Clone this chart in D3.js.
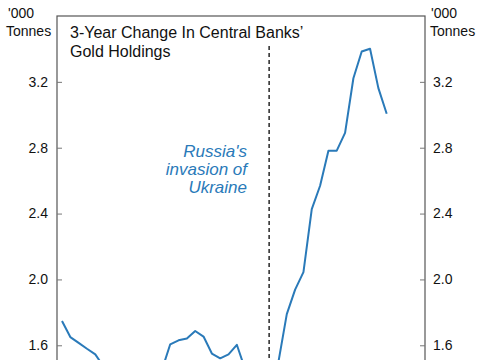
<!DOCTYPE html>
<html><head><meta charset="utf-8">
<script src="https://cdn.jsdelivr.net/npm/d3@7"></script>
<style>html,body{margin:0;padding:0;background:#fff;}svg{display:block;font-family:"Liberation Sans",Arial,sans-serif;}</style>
</head><body>
<script>
// Quarterly observations, Q4 2015 .. Q3 2025 ('000 tonnes)
const quarters = d3.range(40);
const values = [1.748,1.650,1.615,1.579,1.545,1.47,1.40,1.36,1.33,1.31,1.34,1.40,1.45,1.606,1.630,1.641,1.687,1.653,1.550,1.521,1.545,1.603,1.454,1.40,1.42,1.45,1.50,1.789,1.938,2.044,2.427,2.569,2.782,2.782,2.890,3.222,3.384,3.401,3.162,3.006];
const yTicks = [1.6,2.0,2.4,2.8,3.2];
const eventIndex = 25;
const titleLines = ["3-Year Change In Central Banks’","Gold Holdings"];
const eventLabel = ["Russia's","invasion of","Ukraine"];
const unitLabel = ["'000","Tonnes"];

const W=485,H=360;
const L=57,R=425,T=16,B=477;
const svg=d3.select("body").append("svg").attr("width",W).attr("height",H);
const x=d3.scaleLinear().domain([-0.6,43.6]).range([L,R]);
const y=d3.scaleLinear().domain([0.8,3.6]).range([B,T]);
const blue="#2a7ab9";

// frame
svg.append("rect").attr("x",L).attr("y",T).attr("width",R-L).attr("height",B-T)
  .attr("fill","none").attr("stroke","#555").attr("stroke-width",1.2);

// axes
const fmt=d3.format(".1f");
const ly=svg.append("g").attr("transform",`translate(${L},0)`)
  .call(d3.axisRight(y).tickValues(yTicks).tickSize(5).tickFormat(""));
const ry=svg.append("g").attr("transform",`translate(${R},0)`)
  .call(d3.axisLeft(y).tickValues(yTicks).tickSize(5).tickFormat(""));
[ly,ry].forEach(g=>{g.select(".domain").remove();g.selectAll("line").attr("stroke","#777");});
svg.append("g").selectAll("text").data(yTicks).join("text")
  .attr("x",48).attr("y",d=>y(d)).attr("dy","0.35em").attr("text-anchor","end")
  .attr("font-size",14).attr("fill","#111").text(fmt);
svg.append("g").selectAll("text").data(yTicks).join("text")
  .attr("x",433).attr("y",d=>y(d)).attr("dy","0.35em").attr("text-anchor","start")
  .attr("font-size",14).attr("fill","#111").text(fmt);

// unit labels
unitLabel.forEach((t,i)=>{
  svg.append("text").attr("x",i===0?8:6).attr("y",18+i*18).attr("font-size",14).attr("fill","#111").text(t);
  svg.append("text").attr("x",i===0?431:430).attr("y",18+i*18).attr("font-size",14).attr("fill","#111").text(t);
});

// title
titleLines.forEach((t,i)=>{
  svg.append("text").attr("x",70).attr("y",38+i*19).attr("font-size",16).attr("fill","#111").text(t);
});

// event line
svg.append("line").attr("x1",x(eventIndex)-1).attr("x2",x(eventIndex)-1).attr("y1",46).attr("y2",B)
  .attr("stroke","#333").attr("stroke-width",1.6).attr("stroke-dasharray","4,3");
eventLabel.forEach((t,i)=>{
  svg.append("text").attr("x",247).attr("y",157+i*18).attr("text-anchor","end")
    .attr("font-size",17).attr("font-style","italic").attr("fill",blue).text(t);
});

// series
const line=d3.line().x((d,i)=>x(quarters[i])).y(d=>y(d));
svg.append("path").datum(values).attr("d",line).attr("fill","none")
  .attr("stroke",blue).attr("stroke-width",2).attr("stroke-linejoin","round");
</script>
</body></html>
